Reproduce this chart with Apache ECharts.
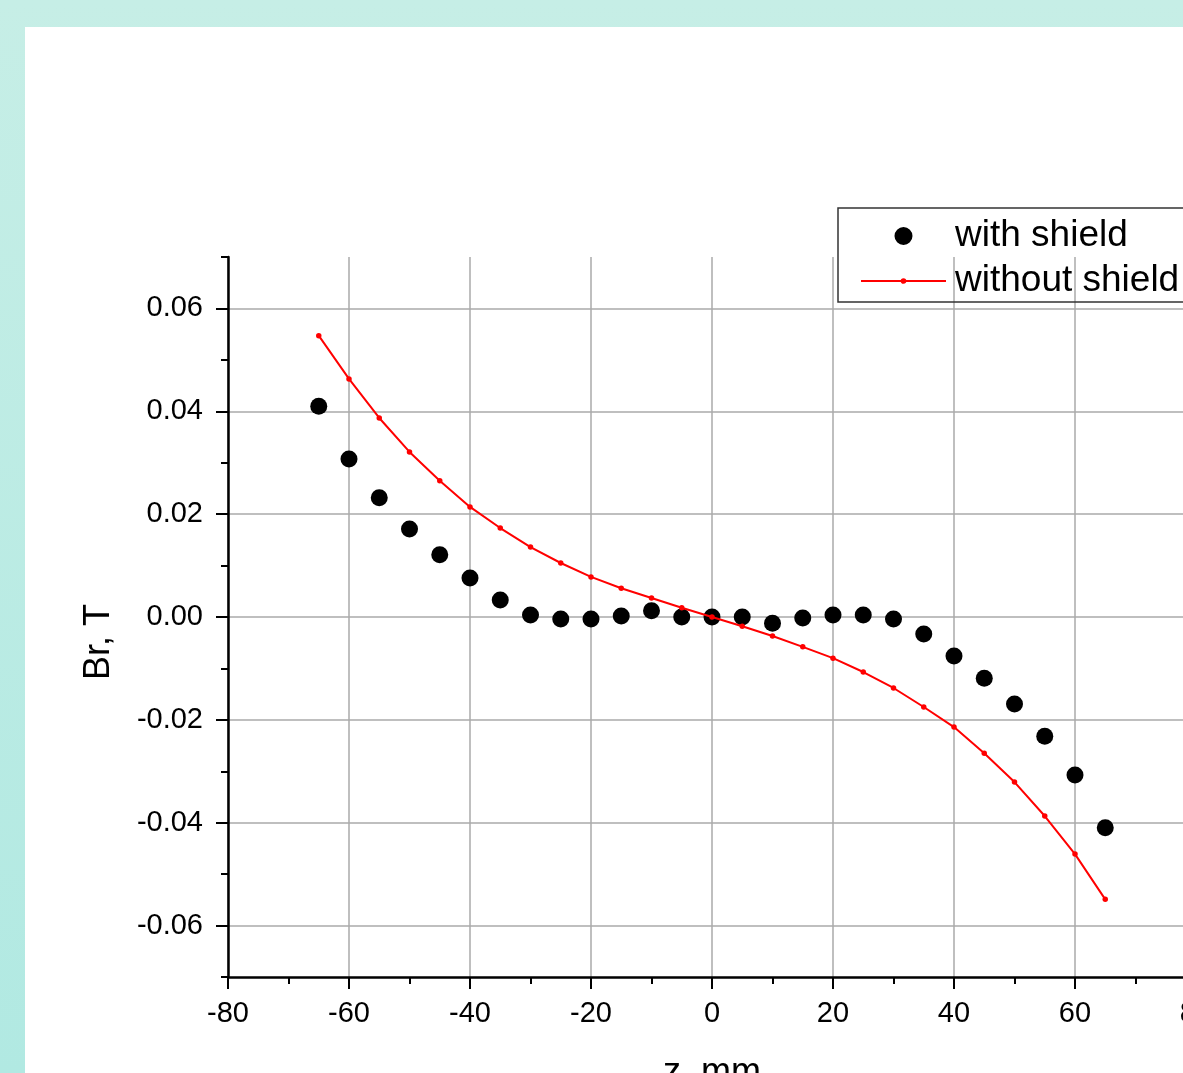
<!DOCTYPE html>
<html><head><meta charset="utf-8">
<script src="https://cdn.jsdelivr.net/npm/echarts@6/dist/echarts.min.js"></script>
<style>
html,body{margin:0;padding:0;width:1183px;height:1073px;overflow:hidden;}
body{background:linear-gradient(to bottom,#c6eee6,#b1e9e2);}
#panel{position:absolute;left:25px;top:27px;width:1158px;height:1046px;background:#fff;}
#chart{position:absolute;left:0;top:0;width:1183px;height:1073px;}
</style></head><body><div id="panel"></div><div id="chart"></div>
<script>
// z positions, mm
const zPositions = [-65,-60,-55,-50,-45,-40,-35,-30,-25,-20,-15,-10,-5,0,5,10,15,20,25,30,35,40,45,50,55,60,65];
// Br, T with shield
const withShield = [0.0410,0.0307,0.0232,0.0171,0.0121,0.0076,0.0033,0.0004,-0.0004,-0.0004,0.0002,0.0012,0.0000,0.0000,0.0000,-0.0012,-0.0002,0.0004,0.0004,-0.0004,-0.0033,-0.0076,-0.0119,-0.0169,-0.0232,-0.0307,-0.0410];
// Br, T without shield
const withoutShield = [0.0547,0.0463,0.0387,0.0321,0.0265,0.0214,0.0173,0.0136,0.0105,0.0078,0.0056,0.0037,0.0018,0.0000,-0.0018,-0.0037,-0.0058,-0.0080,-0.0107,-0.0138,-0.0175,-0.0214,-0.0265,-0.0321,-0.0387,-0.0461,-0.0549];
const seriesNames = ['with shield','without shield'];
const xRange = [-80, 80];
const xStep = 20;
const yRange = [-0.07, 0.07];
const yLabelRange = [-0.06, 0.06];
const yLabelStep = 0.02;

const FONT = 'Liberation Sans, Arial, Helvetica, sans-serif';
const GRID_TOP = 257, GRID_H = 720, GRID_LEFT = 228, GRID_W = 968;
const unitPx = GRID_H / (yRange[1] - yRange[0]);
const innerOffset = (yRange[1] - yLabelRange[1]) * unitPx;

// legend icons (85 x 18 boxes)
const ICON_DOT = 'path://M0,0L0.01,0L0,0.01Z M85,18L84.99,18L85,17.99Z M42.5,0A9,9 0 1 1 42.49,0Z';
const ICON_LINE = 'path://M0,0L0.01,0L0,0.01Z M85,18L84.99,18L85,17.99Z M0,8L40,8L40,10L0,10Z M45,8L85,8L85,10L45,10Z M42.5,6.2A2.8,2.8 0 1 1 42.49,6.2Z';

const chart = echarts.init(document.getElementById('chart'), null, {renderer:'canvas'});
chart.setOption({
  animation: false,
  backgroundColor: 'transparent',
  textStyle: {fontFamily: FONT},
  grid: [
    {left: GRID_LEFT, top: GRID_TOP, width: GRID_W, height: GRID_H, outerBoundsMode: 'none', containLabel: false},
    {left: GRID_LEFT, top: GRID_TOP + innerOffset, width: GRID_W, height: GRID_H - 2*innerOffset, outerBoundsMode: 'none', containLabel: false}
  ],
  legend: {
    orient: 'vertical', left: 838, top: 208,
    padding: [8, 14, 1, 23],
    itemWidth: 85, itemHeight: 18, itemGap: 5,
    symbolKeepAspect: true,
    borderColor: '#333', borderWidth: 1.5,
    textStyle: {fontSize: 37, lineHeight: 40, color: '#000', fontFamily: FONT, padding: [0,0,0,4]},
    data: [
      {name: seriesNames[0], icon: ICON_DOT, itemStyle: {color: '#000', opacity: 1}},
      {name: seriesNames[1], icon: ICON_LINE, itemStyle: {color: '#ff0000', opacity: 1}}
    ]
  },
  xAxis: [
    {
      type: 'value', gridIndex: 0, min: xRange[0], max: xRange[1], interval: xStep,
      name: 'z, mm', nameLocation: 'middle', nameGap: 78,
      nameTextStyle: {fontSize: 36, color: '#000', fontFamily: FONT},
      axisLine: {show: true, onZero: false, lineStyle: {color: '#000', width: 2.5}},
      axisTick: {show: true, inside: false, length: 12, lineStyle: {color: '#000', width: 2}},
      minorTick: {show: true, splitNumber: 2, length: 7, lineStyle: {color: '#000', width: 2}},
      axisLabel: {fontSize: 29, color: '#000', margin: 22, fontFamily: FONT, showMinLabel: true, showMaxLabel: true},
      splitLine: {show: true, lineStyle: {color: '#aaa', width: 1.5}}
    },
    {type: 'value', gridIndex: 1, min: xRange[0], max: xRange[1], show: false}
  ],
  yAxis: [
    {
      type: 'value', gridIndex: 0, min: yRange[0], max: yRange[1], interval: 0.01,
      name: 'Br, T', nameLocation: 'middle', nameGap: 111,
      nameTextStyle: {fontSize: 36, color: '#000', fontFamily: FONT, padding: [0, 50, 0, 0]},
      axisLine: {show: true, onZero: false, lineStyle: {color: '#000', width: 2.5}},
      axisTick: {show: true, inside: false, length: 7, lineStyle: {color: '#000', width: 2}},
      axisLabel: {show: false},
      splitLine: {show: false}
    },
    {
      type: 'value', gridIndex: 1, min: yLabelRange[0], max: yLabelRange[1], interval: yLabelStep,
      axisLine: {show: false, onZero: false},
      axisTick: {show: true, inside: false, length: 12, lineStyle: {color: '#000', width: 2}},
      axisLabel: {fontSize: 29, color: '#000', margin: 25, fontFamily: FONT, formatter: v => v.toFixed(2)},
      splitLine: {show: true, lineStyle: {color: '#aaa', width: 1.5}}
    }
  ],
  series: [
    {
      name: seriesNames[0], type: 'scatter', xAxisIndex: 0, yAxisIndex: 0,
      symbol: 'circle', symbolSize: 17,
      itemStyle: {color: '#000', opacity: 1},
      data: zPositions.map((z, i) => [z, withShield[i]]),
      z: 3
    },
    {
      name: seriesNames[1], type: 'line', xAxisIndex: 0, yAxisIndex: 0,
      symbol: 'circle', symbolSize: 5.5, showSymbol: true,
      itemStyle: {color: '#ff0000', opacity: 1},
      lineStyle: {color: '#ff0000', width: 2},
      data: zPositions.map((z, i) => [z, withoutShield[i]]),
      z: 4
    }
  ]
});
</script></body></html>
